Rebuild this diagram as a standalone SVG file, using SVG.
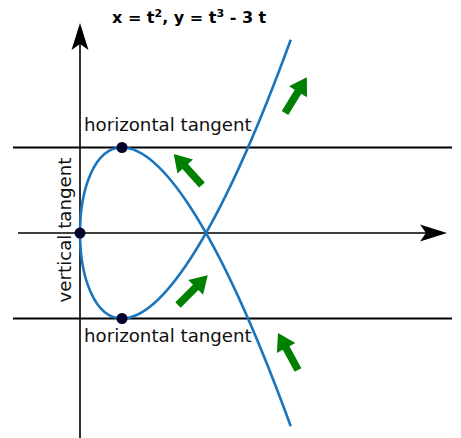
<svg xmlns="http://www.w3.org/2000/svg" width="461" height="438" viewBox="0 0 461 438">
<style>
.ln{stroke:#000;stroke-width:2;fill:none}
.ax{stroke:#000;stroke-width:1.6;fill:none}
.curve{stroke:#1a75bc;stroke-width:2.6;fill:none}
.dot{fill:#00002b}
.lbl{font-family:"DejaVu Sans",sans-serif;font-size:18.2px;fill:#111}
.ttl{font-family:"DejaVu Sans",sans-serif;font-size:16px;font-weight:bold;fill:#000}
.sup{font-size:11px}
</style>
<defs>
<polygon id="garrow" points="0,-3.8 25,-3.8 25,-10.5 42,0 25,10.5 25,3.8 0,3.8" fill="#008000"/>
</defs>
<g id="title">
<text class="ttl" x="112" y="23" xml:space="preserve">x = t<tspan class="sup" dy="-6.5">2</tspan><tspan dy="6.5">, y = t</tspan><tspan class="sup" dy="-6.5">3</tspan><tspan dy="6.5"> - 3 t</tspan></text>
</g>
<g id="connectors">
<line class="ln" x1="13" y1="147.5" x2="452" y2="147.5"/>
<line class="ln" x1="13" y1="318.5" x2="452" y2="318.5"/>
<line class="ax" x1="80" y1="438" x2="80" y2="40"/>
<polygon points="80,23 88.5,50 80,44 71.5,50" fill="#000"/>
<line class="ax" x1="18" y1="233" x2="430" y2="233"/>
<polygon points="447,233 420,241.5 426,233 420,224.5" fill="#000"/>
<path class="curve" d="M290.74,426.2 C212.97,213.23 156.72,147.5 122,147.5 C94,147.5 80,190.25 80,233 C80,275.75 94,318.5 122,318.5 C156.72,318.5 212.97,252.77 290.74,39.8"/>
</g>
<g id="arrows">
<use href="#garrow" transform="translate(285,113) rotate(-58.6)"/>
<use href="#garrow" transform="translate(202,185) rotate(-132.2)"/>
<use href="#garrow" transform="translate(178,305) rotate(-45)"/>
<use href="#garrow" transform="translate(298,370) rotate(-118.4)"/>
</g>
<g id="node-top">
<circle class="dot" cx="122" cy="147.5" r="5.5"/>
<text class="lbl" x="84" y="131">horizontal tangent</text>
</g>
<g id="node-bottom">
<circle class="dot" cx="122" cy="318.5" r="5.5"/>
<text class="lbl" x="84" y="342">horizontal tangent</text>
</g>
<g id="node-left">
<circle class="dot" cx="80" cy="233" r="5.5"/>
<text class="lbl" transform="translate(71,230) rotate(-90)" text-anchor="middle">vertical tangent</text>
</g>
</svg>
